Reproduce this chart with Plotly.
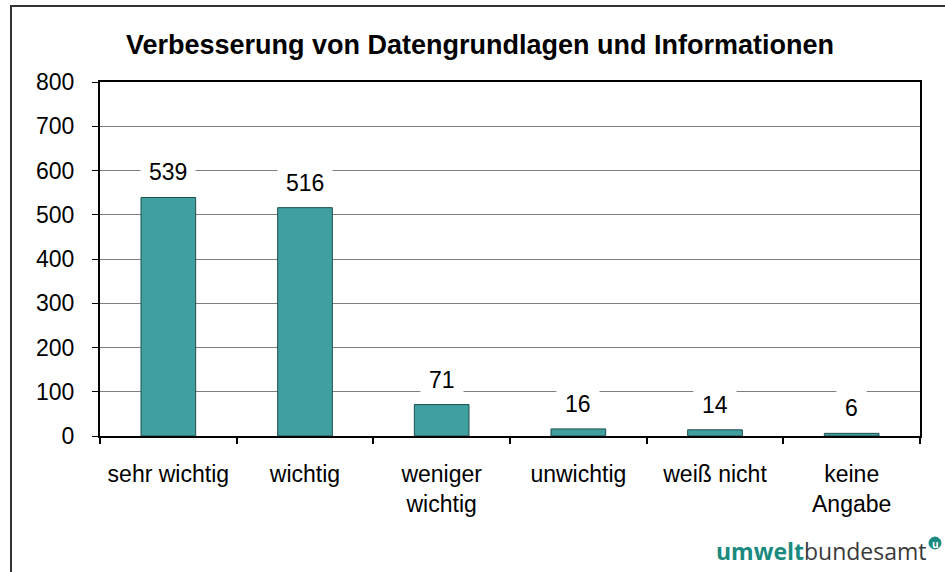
import plotly.graph_objects as go

categories = ["sehr wichtig", "wichtig", "weniger<br>wichtig", "unwichtig", "weiß nicht", "keine<br>Angabe"]
values = [539, 516, 71, 16, 14, 6]
y_ticks = [0, 100, 200, 300, 400, 500, 600, 700, 800]
title_text = "Verbesserung von Datengrundlagen und Informationen"

W, H = 945, 572
L, R, T, B = 100, 25, 82, 136
pw, ph = W - L - R, H - T - B

def px_x(x):
    return (x - L) / pw

def px_y(y):
    return (H - B - y) / ph

FONT = "Liberation Sans, Arial, sans-serif"
LOGO_FONT = "Open Sans, sans-serif"
TEAL = "#1A8A80"

fig = go.Figure()
fig.add_trace(go.Bar(
    x=categories, y=values, width=0.4,
    marker=dict(color="#40A0A0", line=dict(color="#1E4E4E", width=1)),
    hoverinfo="x+y",
))

for c, v in zip(categories, values):
    fig.add_annotation(
        x=c, y=v, xref="x", yref="y", text=str(v), showarrow=False,
        yanchor="bottom", yshift=3, bgcolor="white", borderpad=8,
        font=dict(family=FONT, size=23, color="black"),
    )

# outer frame
fig.add_shape(type="rect", xref="paper", yref="paper",
              x0=px_x(11), x1=px_x(960), y0=px_y(590), y1=px_y(6),
              line=dict(color="#333333", width=2), fillcolor="rgba(0,0,0,0)", layer="below")

# logo
fig.add_annotation(
    xref="paper", yref="paper", x=px_x(929), y=px_y(551), xanchor="right", yanchor="middle",
    text="<span style='color:%s'><b>umwelt</b></span><span style='color:#3A3A3A'>bundesamt</span>" % TEAL,
    showarrow=False, font=dict(family=LOGO_FONT, size=23),
)
fig.add_shape(type="circle", xref="paper", yref="paper",
              x0=px_x(929), x1=px_x(941), y0=px_y(549), y1=px_y(537),
              fillcolor=TEAL, line=dict(color=TEAL, width=1), layer="above")
fig.add_annotation(xref="paper", yref="paper", x=px_x(935), y=px_y(543.5),
                   text="<b>u</b>", showarrow=False, xanchor="center", yanchor="middle",
                   font=dict(family=LOGO_FONT, size=10, color="white"))

fig.update_layout(
    width=W, height=H,
    margin=dict(l=L, r=R, t=T, b=B),
    paper_bgcolor="white", plot_bgcolor="white",
    showlegend=False,
    font=dict(family=FONT, size=23, color="black"),
    title=dict(text="<b>" + title_text + "</b>", xref="container", yref="container",
               x=480 / W, y=1 - 45 / H, xanchor="center", yanchor="middle",
               font=dict(family=FONT, size=27, color="black")),
)
fig.update_xaxes(
    showline=True, linecolor="black", linewidth=2, mirror=True,
    ticks="outside", tickson="boundaries", ticklen=6, tickcolor="black", tickwidth=2,
    ticklabelstandoff=16, showgrid=False,
    tickfont=dict(family=FONT, size=23, color="black"),
)
fig.update_yaxes(
    range=[0, 800], tickvals=y_ticks, ticktext=[str(t) for t in y_ticks],
    showline=True, linecolor="black", linewidth=2, mirror=True,
    ticks="outside", ticklen=6, tickcolor="black", tickwidth=1,
    showgrid=True, gridcolor="#808080", gridwidth=1, zeroline=False,
    ticklabelstandoff=13,
    tickfont=dict(family=FONT, size=23, color="black"),
)

fig.write_html("out.html", config={"displayModeBar": False},
               post_script="document.body.style.margin='0';document.body.style.overflow='hidden';")
